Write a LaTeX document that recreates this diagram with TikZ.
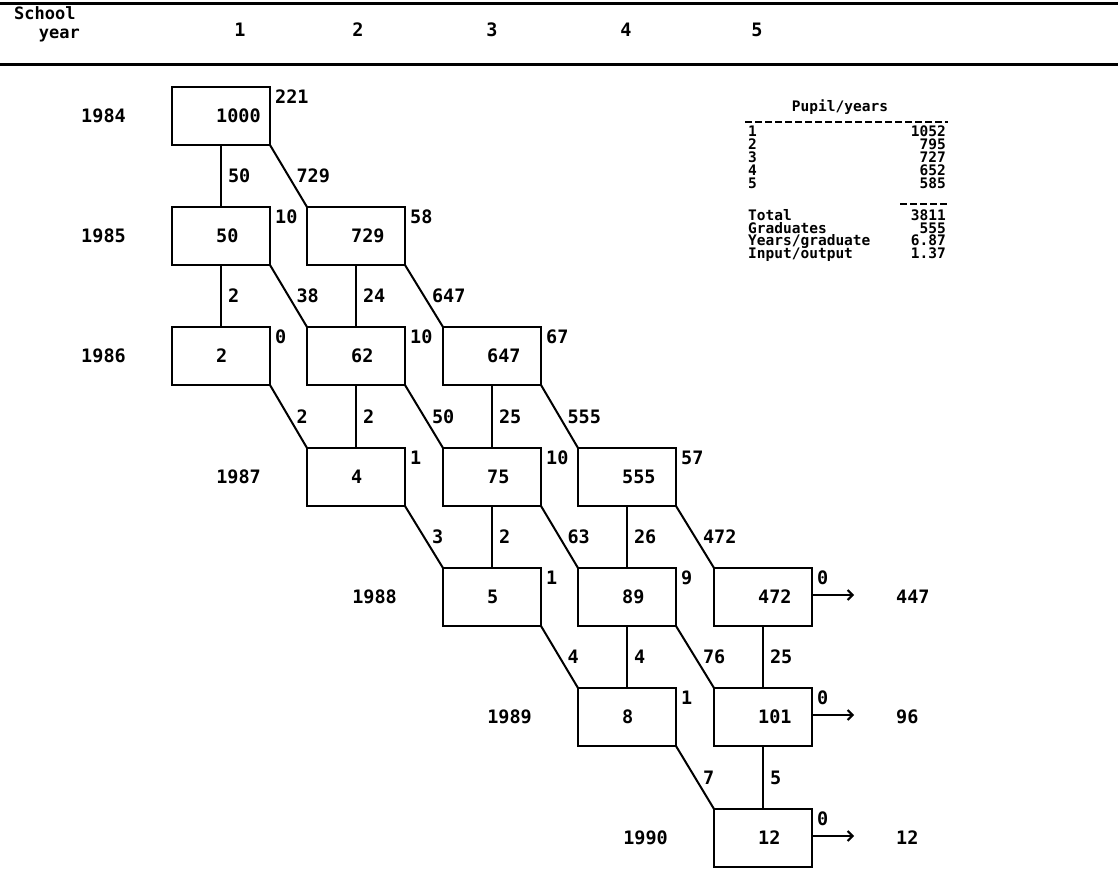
\documentclass[tikz,border=0pt]{standalone}
\usepackage{fontspec}
\setmainfont{DejaVu Sans Mono}
\usetikzlibrary{calc,arrows.meta}
\tikzset{
  box/.style={draw, line width=2.5pt, minimum width=98pt, minimum height=58pt, inner sep=0pt, outer sep=0pt},
  num/.style={font=\fontsize{18.5}{18.5}\selectfont\bfseries, inner sep=0pt},
  lab/.style={font=\fontsize{18.5}{18.5}\selectfont\bfseries, inner sep=0pt},
  hdr/.style={font=\fontsize{17}{17}\selectfont\bfseries, inner sep=0pt},
  tab/.style={font=\fontsize{14.5}{12}\selectfont\bfseries, inner sep=0pt},
  flow/.style={line width=2pt},
  rule/.style={line width=3pt},
  dashrule/.style={line width=2.2pt, dash pattern=on 7pt off 3pt}
}
\begin{document}
\begin{tikzpicture}[x=1pt,y=-1pt]
\useasboundingbox (0,0) rectangle (1118,870);
\fill[white] (0,0) rectangle (1118,870);
% header
\draw[rule] (0,3) -- (1118,3);
\draw[rule] (0,64) -- (1118,64);
\node[hdr, anchor=base west] (hschool) at (14,19) {School};
\node[hdr, anchor=base east] (hyear) at (80,38) {year};
\foreach \x/\t in {240/1,358/2,492/3,626/4,757/5}
  \node[lab] (h\t) at (\x,30) {\t};
% boxes
\foreach \n/\x/\y/\t in {b00/221/116/1000,
  b10/221/236/50, b11/356/236/729,
  b20/221/356/2, b21/356/356/62, b22/492/356/647,
  b31/356/477/4, b32/492/477/75, b33/627/477/555,
  b42/492/597/5, b43/627/597/89, b44/763/597/472,
  b53/627/717/8, b54/763/717/101,
  b64/763/838/12}
{
  \node[box] (\n) at (\x,\y) {};
  \node[num, anchor=base west] (n\n) at ($(\n.center)+(-5,6.7)$) {\t};
}
% dropouts
\foreach \b/\t in {b00/221, b10/10, b11/58, b20/0, b21/10, b22/67, b31/1, b32/10, b33/57, b42/1, b43/9, b44/0, b53/1, b54/0, b64/0}
  \node[lab, anchor=north west] (d\b) at ($(\b.north east)+(5,3)$) {\t};
% vertical flows
\foreach \a/\b/\t in {b00/b10/50, b10/b20/2, b11/b21/24, b21/b31/2, b22/b32/25, b32/b42/2, b33/b43/26, b43/b53/4, b44/b54/25, b54/b64/5}
  \draw[flow] (\a.south) -- (\b.north) node[lab, midway, anchor=west, xshift=6pt] (v\a\b) {\t};
% diagonal flows
\foreach \a/\b/\t in {b00/b11/729, b10/b21/38, b11/b22/647, b20/b31/2, b21/b32/50, b22/b33/555, b31/b42/3, b32/b43/63, b33/b44/472, b42/b53/4, b43/b54/76, b53/b64/7}
  \draw[flow] (\a.south east) -- (\b.north west) node[lab, midway, anchor=west, xshift=7pt] (g\a\b) {\t};
% year labels
\foreach \b/\t in {b00/1984, b10/1985, b20/1986, b31/1987, b42/1988, b53/1989, b64/1990}
  \node[lab, anchor=east] (y\t) at ($(\b.west)+(-46,0)$) {\t};
% exits
\foreach \b/\t in {b44/447, b54/96, b64/12}
{
  \coordinate (e\b) at ($(\b.east)+(42,-2)$);
  \draw[flow, -{Straight Barb[length=5pt,width=10pt,line width=2pt]}] ($(\b.east)+(0,-2)$) -- (e\b);
  \node[lab, anchor=west] (o\b) at ($(\b.east)+(84,0)$) {\t};
}
% table
\node[tab] (ttitle) at (840,107) {Pupil/years};
\coordinate (ta) at (745,122);
\coordinate (tb) at (948,122);
\draw[dashrule] (ta) -- (tb);
\foreach \i/\v/\y in {1/1052/131, 2/795/144, 3/727/157, 4/652/170, 5/585/183}
{
  \node[tab, anchor=base west] (tl\i) at (748,\y+5.5) {\i};
  \node[tab, anchor=base east] (tr\i) at (946,\y+5.5) {\v};
}
\coordinate (tc) at (900,204);
\coordinate (td) at (948,204);
\draw[dashrule] (tc) -- (td);
\foreach \k/\s/\v/\y in {1/Total/3811/215, 2/Graduates/555/227.5, 3/Years\slash graduate/6.87/240, 4/Input\slash output/1.37/252.5}
{
  \node[tab, anchor=base west] (sl\k) at (748,\y+5.5) {\s};
  \node[tab, anchor=base east] (sr\k) at (946,\y+5.5) {\v};
}
\end{tikzpicture}
\end{document}
